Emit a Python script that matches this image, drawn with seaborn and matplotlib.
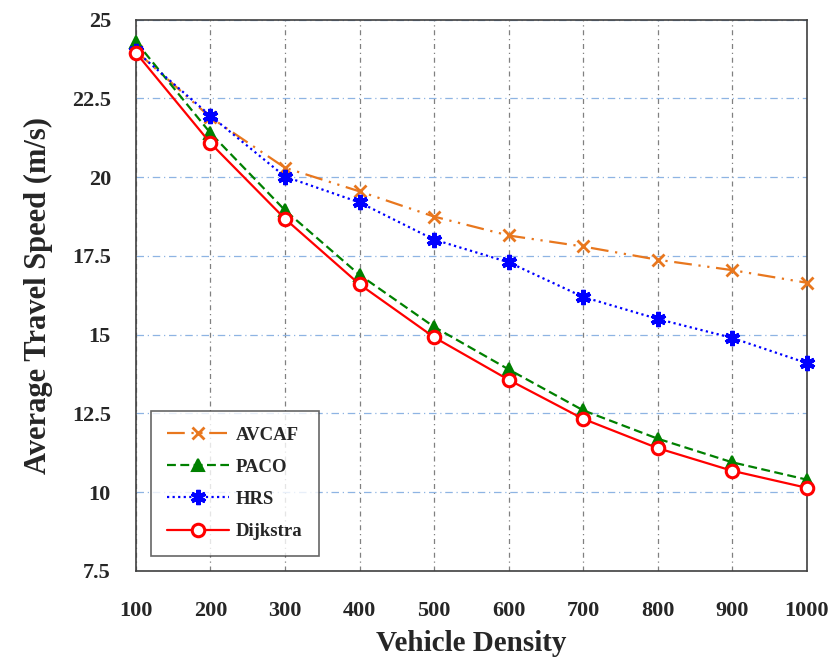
import matplotlib
matplotlib.use("Agg")
import matplotlib.pyplot as plt
import seaborn as sns
import pandas as pd

density = [100, 200, 300, 400, 500, 600, 700, 800, 900, 1000]
avcaf = [24.0, 21.9, 20.3, 19.55, 18.75, 18.15, 17.8, 17.38, 17.05, 16.65]
paco = [24.3, 21.4, 18.95, 16.9, 15.25, 13.9, 12.6, 11.7, 10.95, 10.4]
hrs = [24.0, 21.95, 20.02, 19.2, 18.02, 17.3, 16.2, 15.5, 14.9, 14.1]
dijkstra = [23.95, 21.08, 18.68, 16.6, 14.92, 13.57, 12.33, 11.4, 10.68, 10.14]

y_ticks = [7.5, 10, 12.5, 15, 17.5, 20, 22.5, 25]

df = pd.DataFrame({"Vehicle Density": density, "AVCAF": avcaf, "PACO": paco,
                   "HRS": hrs, "Dijkstra": dijkstra})

sns.set_style("white")
plt.rcParams["font.family"] = ["Liberation Serif", "DejaVu Serif"]
plt.rcParams["font.weight"] = "bold"

fig = plt.figure(figsize=(8.29, 6.57), dpi=100)
ax = fig.add_axes([0.164, 0.131, 0.809, 0.839])

# series styling
styles = {
    "AVCAF": dict(color="#E8771E", linestyle=(0, (8, 3, 1, 3, 1, 3)), marker="x",
                  markersize=9, markeredgewidth=2),
    "PACO": dict(color="#008000", linestyle=(0, (4, 2)), marker="^",
                 markersize=9, markeredgewidth=1.5),
    "HRS": dict(color="#0000FF", linestyle=(0, (1, 1.5)), marker=(6, 2, 0),
                markersize=11, markeredgewidth=3),
    "Dijkstra": dict(color="#FF0000", linestyle="-", marker="o", markersize=9,
                     markerfacecolor="white", markeredgewidth=2.2),
}

for name, st in styles.items():
    sns.lineplot(data=df, x="Vehicle Density", y=name, ax=ax, label=name,
                 linewidth=1.6, markeredgecolor=st["color"], clip_on=False,
                 zorder=3, **st)

ax.set_xlim(100, 1000)
ax.set_ylim(7.5, 25)
ax.set_xticks(density)
ax.set_yticks(y_ticks)
ax.set_yticklabels([f"{v:g}" for v in y_ticks])

ax.xaxis.grid(True, color="#808080", linestyle=(0, (4, 3, 1, 3)), linewidth=0.9)
ax.yaxis.grid(True, color="#8EB4E3", linestyle=(0, (6, 3, 1, 3)), linewidth=0.9)
ax.set_axisbelow(True)

for s in ax.spines.values():
    s.set_color("#404040")
    s.set_linewidth(1.2)

ax.tick_params(axis="x", direction="in", length=6, pad=22, labelsize=16)
ax.tick_params(axis="y", direction="out", length=6, pad=12, labelsize=16)
for lbl in ax.get_xticklabels() + ax.get_yticklabels():
    lbl.set_fontweight("bold")

ax.set_xlabel("Vehicle Density", fontsize=21, fontweight="bold", labelpad=6)
ax.set_ylabel("Average Travel Speed (m/s)", fontsize=22, fontweight="bold", labelpad=14)

leg = ax.legend(loc="lower left", bbox_to_anchor=(0.022, 0.027), borderaxespad=0,
                frameon=True, fancybox=False, edgecolor="#404040",
                labelspacing=0.8, borderpad=0.85, handlelength=3.3,
                handletextpad=0.4, prop={"weight": "bold", "size": 13.5})
leg.get_frame().set_linewidth(1.2)

fig.savefig("out.png", dpi=100)
